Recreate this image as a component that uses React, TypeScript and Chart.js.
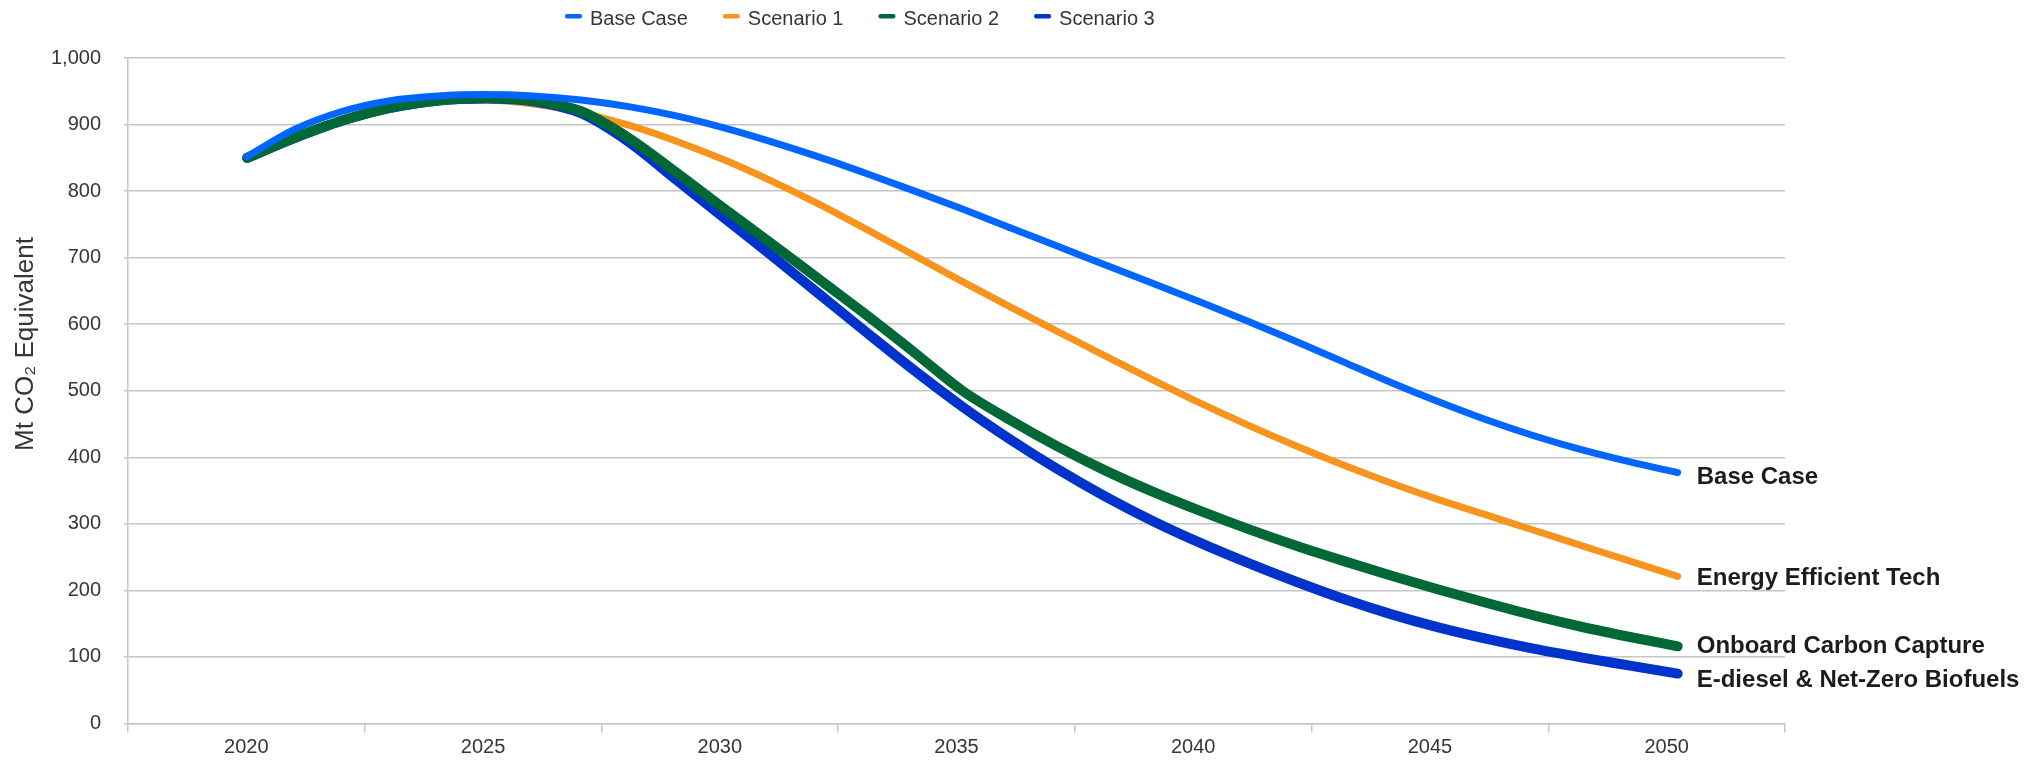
import React, { useEffect, useRef } from 'react';
import { Chart, registerables } from 'chart.js';

Chart.register(...registerables);

// ---- data ----
const years = [
  2020, 2021, 2022, 2023, 2024, 2025, 2026, 2027, 2028, 2029,
  2030, 2031, 2032, 2033, 2034, 2035, 2036, 2037, 2038, 2039,
  2040, 2041, 2042, 2043, 2044, 2045, 2046, 2047, 2048, 2049, 2050,
];
const xTickLabels = ['2020', '2025', '2030', '2035', '2040', '2045', '2050'];

const baseCase = [
  852, 893, 920, 936, 943, 945, 943, 937, 927, 913,
  895, 874, 851, 826, 800, 773, 745, 717, 689, 661,
  633, 604, 574, 543, 512, 483, 456, 432, 411, 393, 377,
];
const scenario1 = [
  850, 880, 906, 925, 935, 937, 931, 918, 899, 875,
  847, 815, 780, 742, 703, 664, 626, 589, 552, 516,
  481, 448, 417, 388, 361, 336, 313, 290, 267, 244, 221,
];
const scenario2 = [
  850, 880, 906, 925, 936, 940, 936, 920, 880, 828,
  774, 721, 667, 613, 557, 500, 456, 416, 380, 348,
  319, 292, 267, 244, 222, 201, 181, 162, 145, 130, 116,
];
const scenario3 = [
  850, 880, 906, 925, 936, 939, 935, 917, 874, 817,
  760, 703, 645, 587, 530, 476, 427, 382, 341, 304,
  271, 241, 213, 187, 164, 144, 127, 112, 99, 87, 75,
];

const seriesNames = ['Base Case', 'Scenario 1', 'Scenario 2', 'Scenario 3'];
const endLabels = [
  'Base Case',
  'Energy Efficient Tech',
  'Onboard Carbon Capture',
  'E-diesel & Net-Zero Biofuels',
];
const yAxisTitle = 'Mt CO\u2082 Equivalent';

// ---- styles ----
const colors = ['#0066FF', '#F7941D', '#006837', '#0033CC'];
const widths = [7, 7, 10, 10];
const drawOrder = [0, 3, 1, 2];
const endLabelDy = [2.5, 0, -2, 4.5];
const FONT = '"Liberation Sans", Arial, Helvetica, sans-serif';
const GRID = '#c6c6c6';
const TEXT = '#363636';

const legendPlugin = {
  id: 'customLegend',
  afterDraw(chart: any) {
    const ctx = chart.ctx;
    ctx.save();
    ctx.font = `20px ${FONT}`;
    ctx.textBaseline = 'alphabetic';
    ctx.textAlign = 'left';
    let x = 565;
    seriesNames.forEach((name, i) => {
      ctx.fillStyle = colors[i];
      ctx.beginPath();
      if (ctx.roundRect) ctx.roundRect(x, 14, 17, 4.5, 2);
      else ctx.rect(x, 14, 17, 4.5);
      ctx.fill();
      x += 17 + 8;
      ctx.fillStyle = TEXT;
      ctx.fillText(name, x, 25);
      x += ctx.measureText(name).width + 35;
    });
    ctx.restore();
  },
};

const annotationPlugin = {
  id: 'endLabels',
  afterDatasetsDraw(chart: any) {
    const ctx = chart.ctx;
    ctx.save();
    ctx.font = `bold 24px ${FONT}`;
    ctx.fillStyle = '#1c1c1c';
    ctx.textAlign = 'left';
    ctx.textBaseline = 'alphabetic';
    chart.data.datasets.forEach((_: any, i: number) => {
      const meta = chart.getDatasetMeta(i);
      const pt = meta.data[meta.data.length - 1];
      if (!pt) return;
      ctx.fillText(endLabels[i], pt.x + 19, pt.y + endLabelDy[i] + 8.6);
    });
    // y-axis title
    ctx.font = `26px ${FONT}`;
    ctx.fillStyle = TEXT;
    ctx.textAlign = 'center';
    ctx.textBaseline = 'middle';
    ctx.translate(26, 344);
    ctx.rotate(-Math.PI / 2);
    ctx.fillText(yAxisTitle, 0, 0);
    ctx.restore();
  },
};

export default function App() {
  const ref = useRef<HTMLCanvasElement | null>(null);

  useEffect(() => {
    if (!ref.current) return;
    const series = [baseCase, scenario1, scenario2, scenario3];
    const chart = new Chart(ref.current, {
      type: 'line',
      data: {
        datasets: series.map((vals, i) => ({
          label: seriesNames[i],
          data: years.map((yr, j) => ({ x: yr, y: vals[j] })),
          borderColor: colors[i],
          backgroundColor: colors[i],
          borderWidth: widths[i],
          pointRadius: 0,
          pointHoverRadius: 0,
          cubicInterpolationMode: 'monotone',
          borderCapStyle: 'round',
          borderJoinStyle: 'round',
          fill: false,
          order: drawOrder[i],
          xAxisID: 'xd',
          yAxisID: 'y',
        })),
      },
      options: {
        animation: false,
        responsive: true,
        maintainAspectRatio: false,
        layout: { padding: { top: 58, right: 248, bottom: 0, left: 0 } },
        plugins: {
          legend: { display: false },
          tooltip: { enabled: false },
          title: { display: false },
        },
        scales: {
          x: {
            type: 'category',
            labels: xTickLabels,
            offset: true,
            position: 'bottom',
            grid: {
              offset: true,
              drawOnChartArea: false,
              drawTicks: true,
              tickLength: 9,
              color: GRID,
              lineWidth: 1.5,
            },
            border: { display: true, color: GRID, width: 1.5 },
            ticks: {
              font: { family: FONT, size: 20 },
              color: TEXT,
              padding: 3,
              autoSkip: false,
              maxRotation: 0,
            },
            afterFit: (scale: any) => {
              scale.height = 41.5;
            },
          },
          xd: {
            type: 'linear',
            display: false,
            min: 2017.5,
            max: 2052.25,
          },
          y: {
            type: 'linear',
            min: 0,
            max: 1000,
            position: 'left',
            ticks: {
              stepSize: 100,
              font: { family: FONT, size: 20 },
              color: TEXT,
              padding: 23,
            },
            grid: {
              color: GRID,
              lineWidth: 1.5,
              tickLength: 4,
              drawTicks: true,
            },
            border: { display: true, color: GRID, width: 1.5 },
            afterFit: (scale: any) => {
              scale.width = 128;
            },
          },
        },
      },
      plugins: [legendPlugin, annotationPlugin],
    } as any);
    return () => chart.destroy();
  }, []);

  return (
    <div style={{ position: 'fixed', left: 0, top: 0, width: 2033, height: 765, background: '#fff' }}>
      <canvas ref={ref} />
    </div>
  );
}
